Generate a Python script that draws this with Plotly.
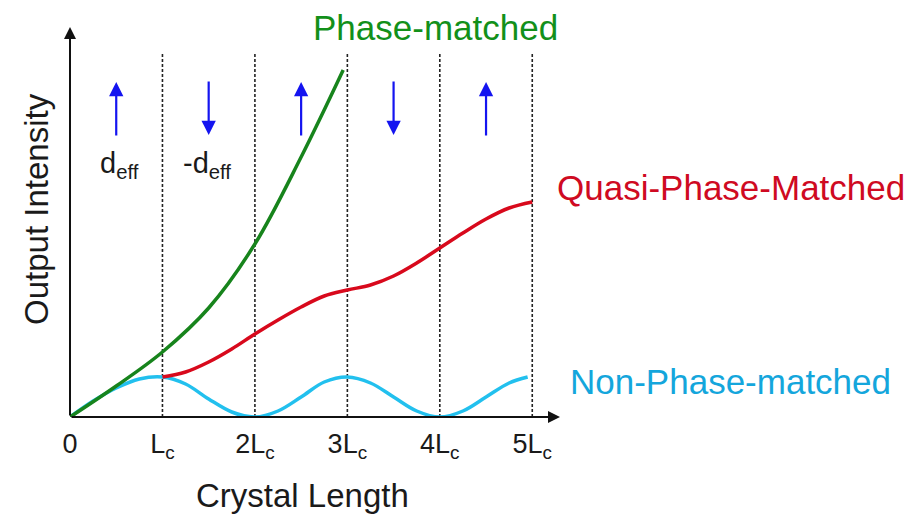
import plotly.graph_objects as go

# Crystal length in units of the coherence length L_c
npm_x = [0, 0.25, 0.5, 0.75, 1.0, 1.25, 1.5, 1.75, 2.0, 2.25, 2.5, 2.75, 3.0,
         3.25, 3.5, 3.75, 4.0, 4.25, 4.5, 4.75, 4.95]
npm_y = [0, 1.6, 2.9, 3.8, 4.0, 3.3, 1.8, 0.5, 0.0, 0.6, 2.0, 3.5, 4.0,
         3.4, 2.0, 0.6, 0.0, 0.6, 2.0, 3.4, 4.0]

qpm_x = [1.0, 1.25, 1.5, 1.75, 2.0, 2.25, 2.5, 2.75, 3.0, 3.25, 3.5, 3.75,
         4.0, 4.25, 4.5, 4.75, 5.0]
qpm_y = [4.0, 4.5, 5.5, 6.8, 8.3, 9.7, 11.0, 12.1, 12.7, 13.2, 14.1, 15.4,
         16.9, 18.4, 19.8, 20.9, 21.5]

pm_x = [0, 0.5, 1.0, 1.5, 2.0, 2.5, 2.955]
pm_y = [0, 3.1, 6.5, 10.9, 17.3, 26.0, 34.7]

tick_vals = [0, 1, 2, 3, 4, 5]
tick_text = ["0", "L<sub>c</sub>", "2L<sub>c</sub>", "3L<sub>c</sub>",
             "4L<sub>c</sub>", "5L<sub>c</sub>"]

# Domain polarity: +1 means d_eff points up, -1 down
domain_centers = [0.5, 1.5, 2.5, 3.5, 4.5]
domain_sign = [1, -1, 1, -1, 1]
domain_labels = ["d<sub>eff</sub>", "-d<sub>eff</sub>"]

X_MAX = 5.3
Y_MAX = 39.0
FONT = "Liberation Sans, Arial, sans-serif"

GREEN = "#17841c"
RED = "#d8091c"
CYAN = "#22c0ee"
BLUE = "#1414f0"

fig = go.Figure()
fig.add_trace(go.Scatter(x=npm_x, y=npm_y, mode="lines",
                         line=dict(color=CYAN, width=3.5, shape="spline", smoothing=1.0)))
fig.add_trace(go.Scatter(x=qpm_x, y=qpm_y, mode="lines",
                         line=dict(color=RED, width=3.5, shape="spline", smoothing=1.0)))
fig.add_trace(go.Scatter(x=pm_x, y=pm_y, mode="lines",
                         line=dict(color=GREEN, width=3.5, shape="spline", smoothing=1.0)))

# Domain boundaries
shapes = []
for k in tick_vals[1:]:
    shapes.append(dict(type="line", xref="x", yref="y", x0=k, x1=k, y0=0, y1=36.4,
                       line=dict(color="#222222", width=1.6, dash="3px,2px"),
                       layer="below"))

annotations = []
# Axis arrows
annotations.append(dict(x=X_MAX, y=0, ax=0, ay=0, xref="x", yref="y", axref="x", ayref="y",
                        text="", showarrow=True, arrowhead=2, arrowsize=1.2,
                        arrowwidth=2, arrowcolor="#111111"))
annotations.append(dict(x=0, y=Y_MAX, ax=0, ay=0, xref="x", yref="y", axref="x", ayref="y",
                        text="", showarrow=True, arrowhead=2, arrowsize=1.2,
                        arrowwidth=2, arrowcolor="#111111"))

# Polarity arrows in each domain
for xc, s in zip(domain_centers, domain_sign):
    tip, tail = (33.5, 28.0) if s > 0 else (28.2, 33.7)
    annotations.append(dict(x=xc, y=tip, ax=xc, ay=tail, xref="x", yref="y",
                            axref="x", ayref="y", text="", showarrow=True,
                            arrowhead=2, arrowsize=1.3, arrowwidth=2.2,
                            arrowcolor=BLUE))

annotations.append(dict(x=0.54, y=25.2, xref="x", yref="y", text=domain_labels[0],
                        showarrow=False, font=dict(family=FONT, size=29, color="#1a1a1a")))
annotations.append(dict(x=1.48, y=25.2, xref="x", yref="y", text=domain_labels[1],
                        showarrow=False, font=dict(family=FONT, size=29, color="#1a1a1a")))

def px_x(p):
    return (p - 70) / 490.0

def px_y(p):
    return (417 - p) / 390.0

annotations.append(dict(x=px_x(435), y=px_y(27), xref="paper", yref="paper",
                        text="Phase-matched", showarrow=False, xanchor="center",
                        yanchor="middle", font=dict(family=FONT, size=35, color="#12901a")))
annotations.append(dict(x=px_x(555), y=px_y(187), xref="paper", yref="paper",
                        text="Quasi-Phase-Matched", showarrow=False, xanchor="left",
                        yanchor="middle", font=dict(family=FONT, size=35, color="#cf0a22")))
annotations.append(dict(x=px_x(568), y=px_y(381), xref="paper", yref="paper",
                        text="Non-Phase-matched", showarrow=False, xanchor="left",
                        yanchor="middle", font=dict(family=FONT, size=35, color="#14a6dc")))

annotations.append(dict(x=px_x(302), y=px_y(495), xref="paper", yref="paper",
                        text="Crystal Length", showarrow=False, xanchor="center",
                        yanchor="middle", font=dict(family=FONT, size=33, color="#1a1a1a")))
annotations.append(dict(x=px_x(36), y=px_y(209), xref="paper", yref="paper",
                        text="Output Intensity", showarrow=False, textangle=-90,
                        xanchor="center", yanchor="middle",
                        font=dict(family=FONT, size=33, color="#1a1a1a")))

fig.update_layout(
    width=911, height=518,
    margin=dict(l=70, r=351, t=27, b=101),
    paper_bgcolor="white", plot_bgcolor="white",
    showlegend=False,
    shapes=shapes, annotations=annotations,
    xaxis=dict(range=[0, X_MAX], showgrid=False, zeroline=False, showline=False,
               tickvals=tick_vals, ticktext=tick_text, ticks="",
               ticklabelstandoff=8,
               tickfont=dict(family=FONT, size=27, color="#1a1a1a")),
    yaxis=dict(range=[0, Y_MAX], showgrid=False, zeroline=False, showline=False,
               showticklabels=False, ticks=""),
)

fig.write_html("out.html")
